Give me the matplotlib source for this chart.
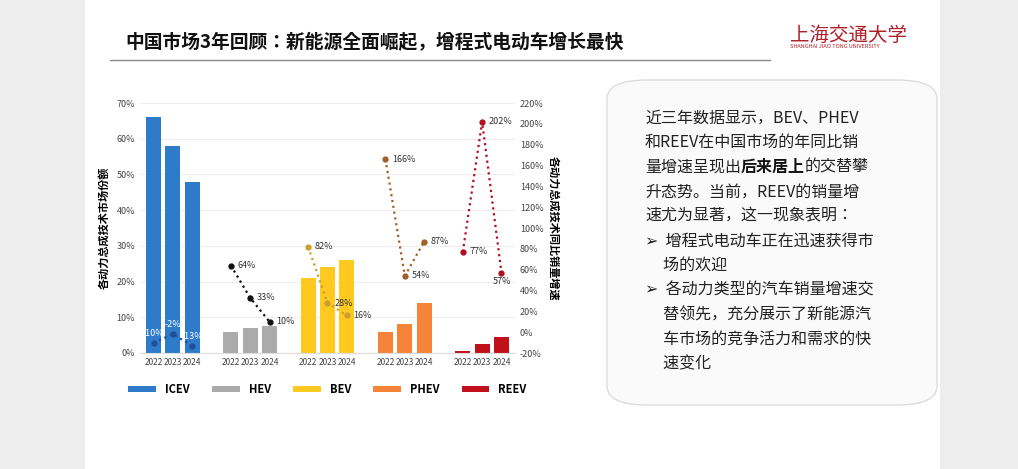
import numpy as np
import matplotlib.pyplot as plt
from matplotlib import font_manager as fm
from matplotlib.patches import FancyBboxPatch, Rectangle

cjk = sorted({f.name for f in fm.fontManager.ttflist if 'CJK' in f.name})
plt.rcParams['font.family'] = (['Noto Sans CJK SC'] if 'Noto Sans CJK SC' in cjk else cjk[:1]) + ['DejaVu Sans']

types = ['ICEV', 'HEV', 'BEV', 'PHEV', 'REEV']
years = ['2022', '2023', '2024']
share = [[66, 58, 48], [6, 7, 7.5], [21, 24, 26], [6, 8, 14], [0.5, 2.5, 4.5]]
growth = [[-10, -2, -13], [64, 33, 10], [82, 28, 16], [166, 54, 87], [77, 202, 57]]
bar_colors = ['#2E7BC9', '#ABABAB', '#FFC91F', '#F5843A', '#C0101A']
dot_colors = ['#1F4E9A', '#111111', '#C9A030', '#A0602A', '#B01020']

fig = plt.figure(figsize=(10.18, 4.69), dpi=100)
fig.patch.set_facecolor('#EDEDED')
# slide
fig.patches.append(Rectangle((85/1018, 0), 855/1018, 1, transform=fig.transFigure,
                             facecolor='white', edgecolor='none', zorder=-5))
fig.text(125/1018, 1 - 42/469, '中国市场3年回顾：新能源全面崛起，增程式电动车增长最快',
         fontsize=13.5, fontweight='bold', va='center', color='#111111')
fig.lines.append(plt.Line2D([110/1018, 770/1018], [1 - 60/469] * 2, transform=fig.transFigure,
                            color='#8A8A8A', lw=1))
fig.text(790/1018, 1 - 35/469, '上海交通大学', fontsize=14, color='#B0202A', va='center')
fig.text(790/1018, 1 - 47/469, 'SHANGHAI JIAO TONG UNIVERSITY', fontsize=4, color='#B0202A', va='center')

# text box
fig.patches.append(FancyBboxPatch((607/1018, 1 - 405/469), 330/1018, 325/469,
                                  boxstyle='round,pad=0,rounding_size=0.04', transform=fig.transFigure,
                                  facecolor='#FAFAFA', edgecolor='#DDDDDD', lw=1, zorder=-4))
lines = ['近三年数据显示，BEV、PHEV', '和REEV在中国市场的年同比销', None,
         '升态势。当前，REEV的销量增', '速尤为显著，这一现象表明：', '➢  增程式电动车正在迅速获得市',
         '     场的欢迎', '➢  各动力类型的汽车销量增速交', '     替领先，充分展示了新能源汽',
         '     车市场的竞争活力和需求的快', '     速变化']
for i, t in enumerate(lines):
    if t is not None:
        fig.text(645/1018, 1 - (118 + i * 24.6)/469, t, fontsize=11.5, va='center', color='#222222')
# line with bold part
y3 = 1 - (118 + 2 * 24.6)/469
t1 = fig.text(645/1018, y3, '量增速呈现出', fontsize=11.5, va='center', color='#222222')
t2 = fig.text(645/1018 + 6 * 11.5 * 1.389 / 1018, y3, '后来居上', fontsize=11.5, va='center',
              color='#111111', fontweight='bold')
fig.text(645/1018 + 10 * 11.5 * 1.389 / 1018, y3, '的交替攀', fontsize=11.5, va='center', color='#222222')

ax = fig.add_axes([140/1018, 1 - 353/469, 375/1018, 250/469])
ax2 = ax.twinx()
for g, name in enumerate(types):
    xs = g * 4 + np.arange(3)
    ax.bar(xs, share[g], width=0.78, color=bar_colors[g], label=name, zorder=2)
    ax2.plot(xs, growth[g], ':', color=dot_colors[g], lw=1.6, marker='o', ms=3.5, zorder=3)
    for i, (x, v) in enumerate(zip(xs, growth[g])):
        if g == 0:
            ax2.text(x, v + 9, f'{v}%', fontsize=6.5, color='white', va='center', ha='center')
        elif g == 4 and i == 2:
            ax2.text(x, v - 8, f'{v}%', fontsize=6.5, color='#333333', va='center', ha='center')
        else:
            ax2.text(x + 0.35, v, f'{v}%', fontsize=6.5, color='#333333', va='center', ha='left')
ax.set_xticks([g * 4 + i for g in range(5) for i in range(3)])
ax.set_xticklabels(years * 5, fontsize=6, color='#444444')
ax.set_xlim(-0.7, 18.7)
ax.set_ylim(0, 70)
ax.set_yticks(range(0, 71, 10))
ax.set_yticklabels([f'{v}%' for v in range(0, 71, 10)], fontsize=6.5, color='#444444')
ax2.set_ylim(-20, 220)
ax2.set_yticks(range(-20, 221, 20))
ax2.set_yticklabels([f'{v}%' for v in range(-20, 221, 20)], fontsize=6.5, color='#444444')
ax.grid(axis='y', color='#EEEEEE', lw=0.8, zorder=0)
for a in (ax, ax2):
    a.patch.set_visible(False)
    for s in a.spines.values():
        s.set_visible(False)
    a.tick_params(length=0)
ax.spines['bottom'].set_visible(True)
ax.spines['bottom'].set_color('#DDDDDD')
ax.set_ylabel('各动力总成技术市场份额', fontsize=8, fontweight='bold')
ax2.set_ylabel('各动力总成技术同比销量增速', fontsize=8, fontweight='bold', rotation=270, labelpad=12)
ax.legend(loc='upper center', bbox_to_anchor=(0.5, -0.08), ncol=5, frameon=False,
          handlelength=2.5, handleheight=0.5, prop={'weight': 'bold', 'size': 8})

fig.savefig('out.png', dpi=100, facecolor=fig.get_facecolor())
